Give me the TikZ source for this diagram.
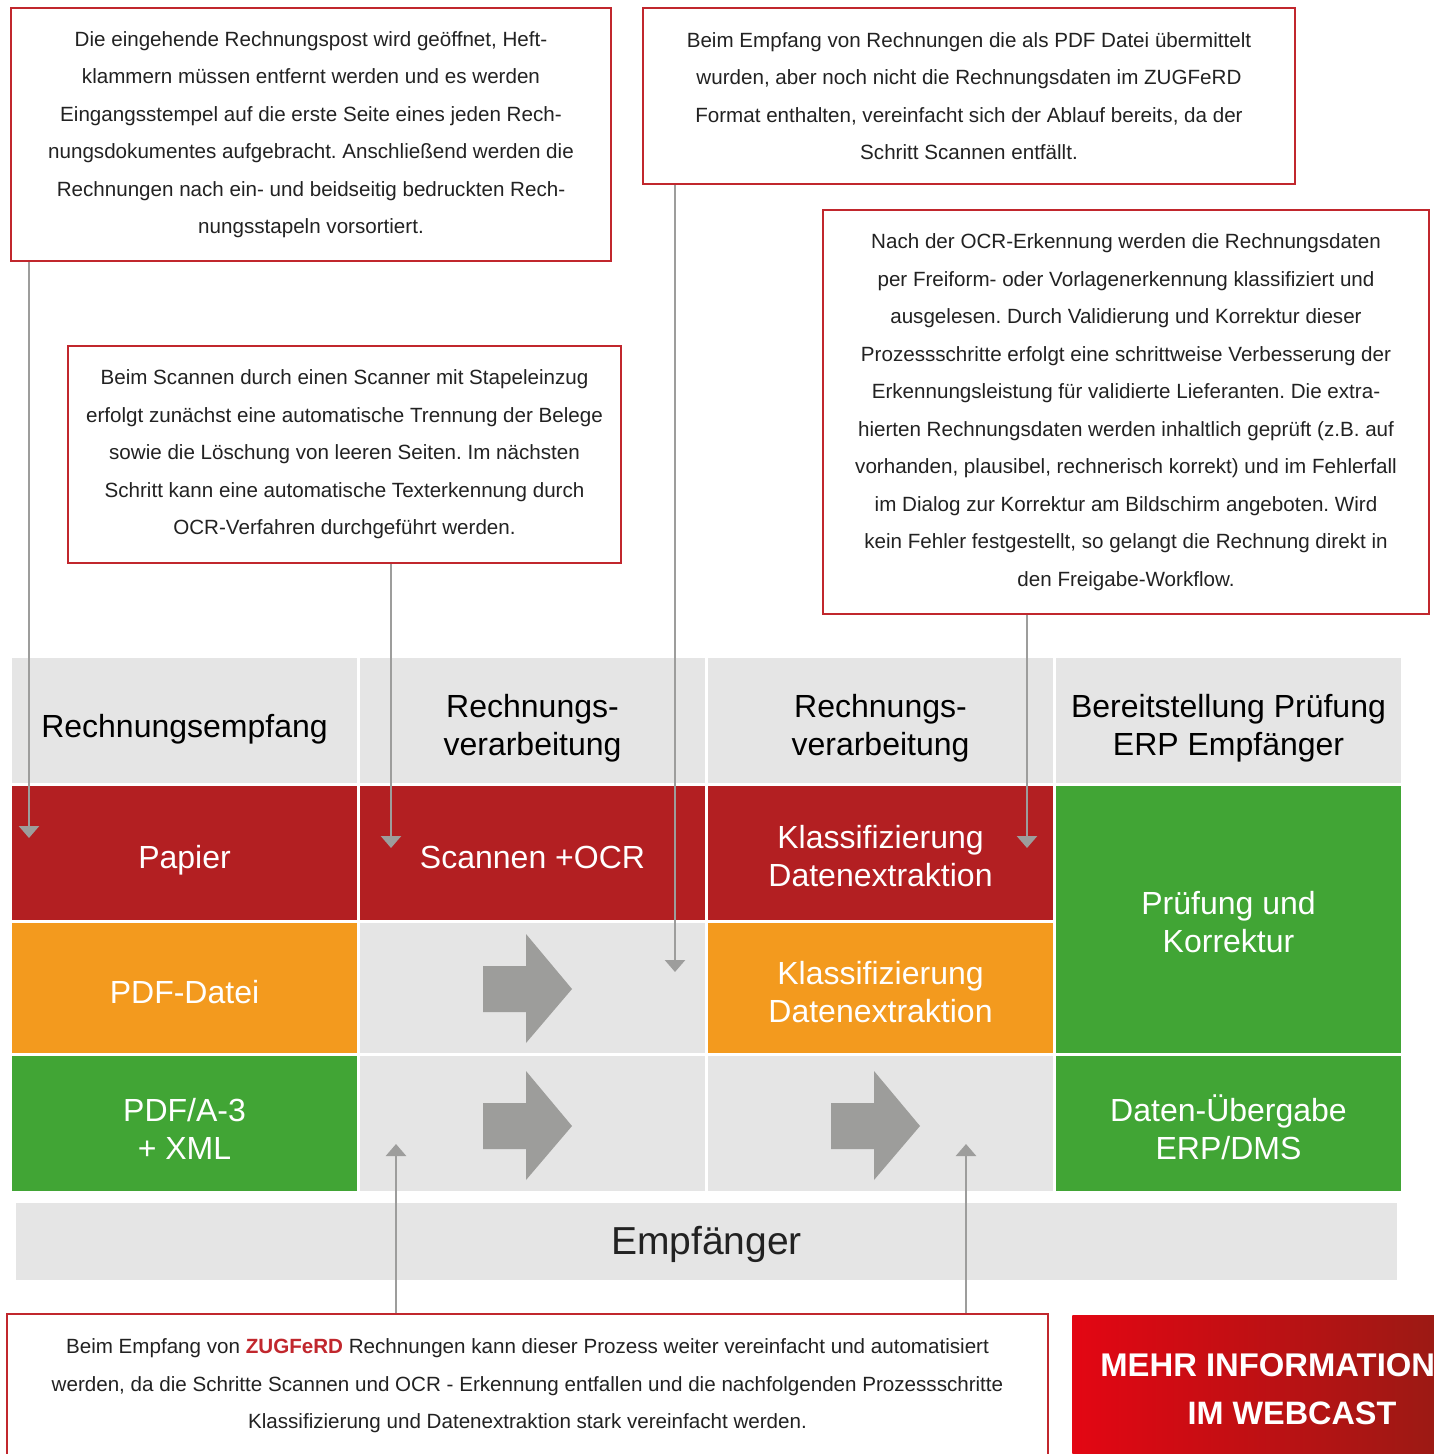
\documentclass[tikz,border=0pt]{standalone}
\usepackage{fontspec}
\setmainfont{Liberation Sans}
\frenchspacing
\usetikzlibrary{arrows.meta,calc}
\definecolor{boxred}{HTML}{C1272D}
\definecolor{cellred}{HTML}{B31F22}
\definecolor{cellorange}{HTML}{F39A1E}
\definecolor{cellgreen}{HTML}{41A535}
\definecolor{cellgrey}{HTML}{E5E5E5}
\definecolor{conngrey}{HTML}{9D9D9C}
\definecolor{bigarrow}{HTML}{9D9D9B}
\definecolor{txt}{HTML}{222222}
\definecolor{webL}{HTML}{E30613}
\definecolor{webR}{HTML}{9B1A14}
\newcommand\bigarrowshape[1]{\fill[bigarrow] (#1) ++(0,-23) -- ++(43,0) -- ++(0,-32) -- ++(46,55) -- ++(-46,54) -- ++(0,-31) -- ++(-43,0) -- cycle;}
\begin{document}
\begin{tikzpicture}[x=0.5pt,y=-0.5pt,
  infobox/.style={draw=boxred, line width=1.3pt, fill=white, align=center, inner sep=0pt, text=txt, font=\fontsize{10.3}{18.75}\selectfont},
  cell/.style={inner sep=0pt, minimum width=172.5pt},
  head/.style={cell, fill=cellgrey, minimum height=62.5pt},
  celltext/.style={inner sep=0pt, align=center, font=\fontsize{16}{19}\selectfont, text=white},
  headtext/.style={celltext, text=black},
  conn/.style={draw=conngrey, line width=1.3pt, -{Triangle[width=10pt,length=6pt]}},
]
\useasboundingbox (0,0) rectangle (1433,1454);
\fill[white] (0,0) rectangle (1433,1454);

% info boxes
\node[infobox, minimum width=300pt, minimum height=126.5pt] (b1) at (311,134.5)
 {Die eingehende Rechnungspost wird geöffnet, Heft-\\
  klammern müssen entfernt werden  und es werden\\
  Eingangsstempel auf die erste Seite eines jeden Rech-\\
  nungsdokumentes aufgebracht. Anschließend werden die\\
  Rechnungen nach ein- und beidseitig bedruckten Rech-\\
  nungsstapeln vorsortiert.};
\node[infobox, minimum width=326pt, minimum height=88pt] (b2) at (969,96)
 {Beim Empfang von Rechnungen die als PDF Datei übermittelt\\
  wurden, aber noch nicht die Rechnungsdaten im ZUGFeRD\\
  Format enthalten, vereinfacht sich der Ablauf bereits, da der\\
  Schritt Scannen entfällt.};
\node[infobox, minimum width=303pt, minimum height=202pt] (b3) at (1126,412)
 {Nach der OCR-Erkennung werden die Rechnungsdaten\\
  per Freiform- oder Vorlagenerkennung klassifiziert und\\
  ausgelesen. Durch Validierung und Korrektur dieser\\
  Prozessschritte erfolgt eine schrittweise Verbesserung der\\
  Erkennungsleistung für validierte Lieferanten. Die extra-\\
  hierten Rechnungsdaten werden inhaltlich geprüft (z.B. auf\\
  vorhanden, plausibel, rechnerisch korrekt) und im Fehlerfall\\
  im Dialog zur Korrektur am Bildschirm angeboten. Wird\\
  kein Fehler festgestellt, so gelangt die Rechnung direkt in\\
  den Freigabe-Workflow.};
\node[infobox, minimum width=276.5pt, minimum height=108.5pt] (b4) at (344.5,454.5)
 {Beim Scannen durch einen Scanner mit Stapeleinzug\\
  erfolgt zunächst eine automatische Trennung der Belege\\
  sowie die Löschung von leeren Seiten. Im nächsten\\
  Schritt kann eine automatische Texterkennung durch\\
  OCR-Verfahren  durchgeführt werden.};
\node[infobox, minimum width=520.5pt, minimum height=72pt] (b5) at (527.5,1386)
 {Beim Empfang von {\bfseries\color{boxred}ZUGFeRD} Rechnungen  kann dieser Prozess weiter vereinfacht und automatisiert\\
  werden, da die Schritte Scannen und OCR - Erkennung entfallen und die nachfolgenden Prozessschritte\\
  Klassifizierung und Datenextraktion stark vereinfacht werden.};

% header row
\node[head] (h1) at (184.5,720.5) {};
\node[head] (h2) at (532.5,720.5) {};
\node[head] (h3) at (880.5,720.5) {};
\node[head] (h4) at (1228.5,720.5) {};
\node[headtext] (h1t) at ($(h1)+(0,8.5)$) {Rechnungsempfang};
\node[headtext] (h2t) at ($(h2)+(0,7.5)$) {Rechnungs-\\verarbeitung};
\node[headtext] (h3t) at ($(h3)+(0,7.5)$) {Rechnungs-\\verarbeitung};
\node[headtext] (h4t) at ($(h4)+(0,7.5)$) {Bereitstellung Prüfung\\ERP Empfänger};

% row 1
\node[cell, fill=cellred, minimum height=67pt] (papier) at (184.5,853) {};
\node[cell, fill=cellred, minimum height=67pt] (scan) at (532.5,853) {};
\node[cell, fill=cellred, minimum height=67pt] (klass1) at (880.5,853) {};
\node[cell, fill=cellgreen, minimum height=133.5pt] (pruef) at (1228.5,919.5) {};
% row 2
\node[cell, fill=cellorange, minimum height=65pt] (pdf) at (184.5,988) {};
\node[cell, fill=cellgrey, minimum height=65pt] (e21) at (532.5,988) {};
\node[cell, fill=cellorange, minimum height=65pt] (klass2) at (880.5,988) {};
% row 3
\node[cell, fill=cellgreen, minimum height=67.5pt] (pdfa) at (184.5,1123.5) {};
\node[cell, fill=cellgrey, minimum height=67.5pt] (e31) at (532.5,1123.5) {};
\node[cell, fill=cellgrey, minimum height=67.5pt] (e32) at (880.5,1123.5) {};
\node[cell, fill=cellgreen, minimum height=67.5pt] (daten) at (1228.5,1123.5) {};

\node[celltext] (papiert) at ($(papier)+(0,7)$) {Papier};
\node[celltext] (scant) at ($(scan)+(0,4)$) {Scannen +OCR};
\node[celltext] (klass1t) at ($(klass1)+(0,3)$) {Klassifizierung\\Datenextraktion};
\node[celltext] (prueft) at ($(pruef)+(0,3)$) {Prüfung und\\Korrektur};
\node[celltext] (pdft) at ($(pdf)+(0,4)$) {PDF-Datei};
\node[celltext] (klass2t) at ($(klass2)+(0,4)$) {Klassifizierung\\Datenextraktion};
\node[celltext] (pdfat) at ($(pdfa)+(0,5)$) {PDF/A-3\\+ XML};
\node[celltext] (datent) at ($(daten)+(0,4)$) {Daten-Übergabe\\ERP/DMS};

% Empfaenger bar
\node[fill=cellgrey, minimum width=690.5pt, minimum height=38.5pt, inner sep=0pt] (empf) at (706.5,1241.5) {};
\node[inner sep=0pt, font=\fontsize{19.5}{23}\selectfont, text=txt] (empft) at ($(empf)+(0,3)$) {Empfänger};

% big arrows
\coordinate (a1) at (483,989);
\coordinate (a2) at (483,1126);
\coordinate (a3) at (831,1126);
\bigarrowshape{a1}
\bigarrowshape{a2}
\bigarrowshape{a3}

% connectors
\coordinate (t1) at (29,838);
\coordinate (t2) at (391,848);
\coordinate (t3) at (675,972);
\coordinate (t4) at (1027,848);
\coordinate (t5) at (396,1144);
\coordinate (t6) at (966,1144);
\draw[conn] (b1.south -| t1) -- (t1);
\draw[conn] (b4.south -| t2) -- (t2);
\draw[conn] (b2.south -| t3) -- (t3);
\draw[conn] (b3.south -| t4) -- (t4);
\draw[conn] (b5.north -| t5) -- (t5);
\draw[conn] (b5.north -| t6) -- (t6);

% webcast
\node[left color=webL, right color=webR, minimum width=184pt, minimum height=73pt,
      inner sep=0pt, anchor=north west] (web) at (1072,1315) {};
\node[anchor=west, inner sep=0pt, text=white, font=\bfseries\fontsize{16.4}{20}\selectfont] (m1) at (1100,1365) {MEHR INFORMATION};
\node[inner sep=0pt, text=white, font=\bfseries\fontsize{16.2}{20}\selectfont] (m2) at (1292,1413) {IM WEBCAST};
\end{tikzpicture}
\end{document}
